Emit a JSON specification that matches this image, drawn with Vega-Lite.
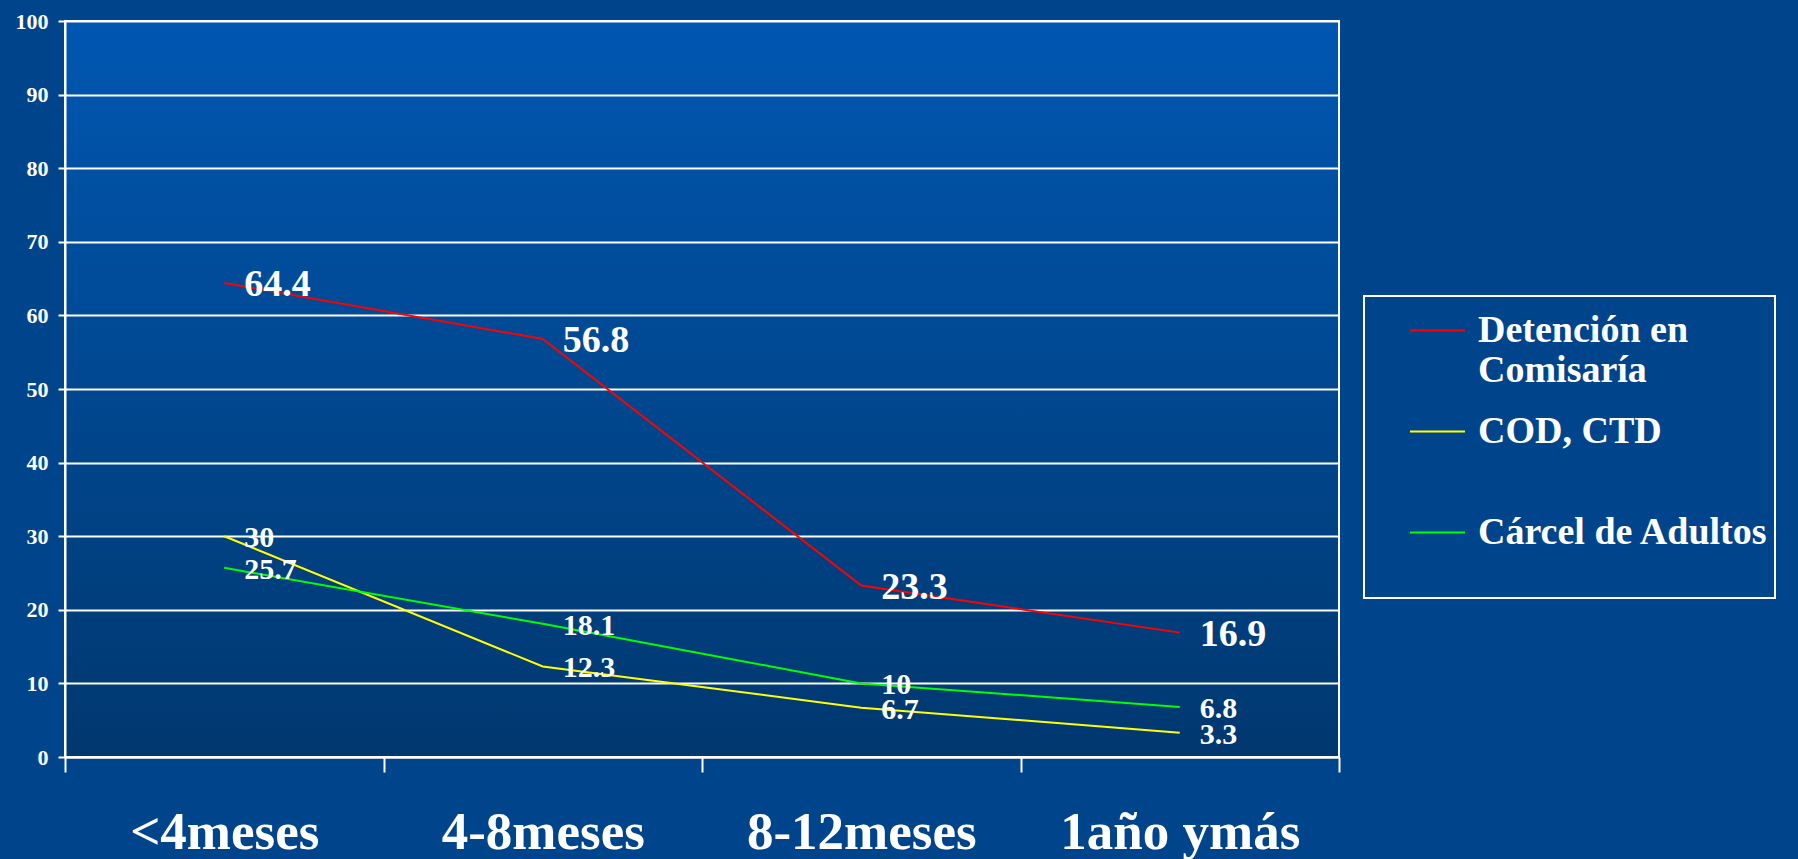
{
  "$schema": "https://vega.github.io/schema/vega-lite/v6.json",
  "width": 1274,
  "height": 736,
  "autosize": {"type": "none"},
  "padding": {"left": 65, "top": 21, "right": 459, "bottom": 102},
  "background": "#00458C",
  "data": {
    "values": [
      {"cat": "<4meses", "series": "Detención en Comisaría", "value": 64.4},
      {"cat": "4-8meses", "series": "Detención en Comisaría", "value": 56.8},
      {"cat": "8-12meses", "series": "Detención en Comisaría", "value": 23.3},
      {"cat": "1año ymás", "series": "Detención en Comisaría", "value": 16.9},
      {"cat": "<4meses", "series": "COD, CTD", "value": 30},
      {"cat": "4-8meses", "series": "COD, CTD", "value": 12.3},
      {"cat": "8-12meses", "series": "COD, CTD", "value": 6.7},
      {"cat": "1año ymás", "series": "COD, CTD", "value": 3.3},
      {"cat": "<4meses", "series": "Cárcel de Adultos", "value": 25.7},
      {"cat": "4-8meses", "series": "Cárcel de Adultos", "value": 18.1},
      {"cat": "8-12meses", "series": "Cárcel de Adultos", "value": 10},
      {"cat": "1año ymás", "series": "Cárcel de Adultos", "value": 6.8}
    ]
  },
  "encoding": {
    "x": {
      "field": "cat",
      "type": "nominal",
      "sort": ["<4meses", "4-8meses", "8-12meses", "1año ymás"],
      "bandPosition": 0.5,
      "scale": {"type": "band", "paddingInner": 0, "paddingOuter": 0},
      "axis": {
        "title": null,
        "labelAngle": 0,
        "labelLimit": 0,
        "domainColor": "white",
        "domainWidth": 2,
        "tickColor": "white",
        "tickWidth": 2,
        "tickSize": 15,
        "tickBand": "extent",
        "labelFont": "Liberation Serif",
        "labelFontWeight": "bold",
        "labelFontSize": 53,
        "labelColor": "white",
        "labelBaseline": "alphabetic",
        "labelPadding": 76,
        "grid": false
      }
    },
    "y": {
      "field": "value",
      "type": "quantitative",
      "scale": {"domain": [0, 100], "nice": false},
      "axis": {
        "title": null,
        "values": [0, 10, 20, 30, 40, 50, 60, 70, 80, 90, 100],
        "domainColor": "white",
        "domainWidth": 2,
        "tickColor": "white",
        "tickWidth": 2,
        "tickSize": 7,
        "gridColor": "white",
        "gridWidth": 2,
        "gridOpacity": 1,
        "labelFont": "Liberation Serif",
        "labelFontWeight": "bold",
        "labelFontSize": 22,
        "labelColor": "white",
        "labelPadding": 10
      }
    }
  },
  "layer": [
    {
      "mark": {"type": "line", "strokeWidth": 2},
      "encoding": {
        "color": {
          "field": "series",
          "type": "nominal",
          "scale": {
            "domain": ["Detención en Comisaría", "COD, CTD", "Cárcel de Adultos"],
            "range": ["#FF0000", "#FFFF00", "#00FF00"]
          },
          "legend": {
            "title": null,
            "orient": "none",
            "legendX": 1299,
            "legendY": 275,
            "strokeColor": "white",
            "padding": 6,
            "symbolType": "stroke",
            "symbolSize": 3025,
            "symbolStrokeWidth": 2,
            "symbolOffset": 39,
            "labelFont": "Liberation Serif",
            "labelFontWeight": "bold",
            "labelFontSize": 38,
            "labelColor": "white",
            "labelLimit": 0,
            "labelOffset": 12,
            "rowPadding": 13,
            "labelExpr": "datum.label == 'Detención en Comisaría' ? ['Detención en', 'Comisaría'] : [datum.label, '']"
          }
        }
      }
    },
    {
      "mark": {
        "type": "text",
        "align": "left",
        "baseline": "middle",
        "dx": 20,
        "dy": 2,
        "font": "Liberation Serif",
        "fontWeight": "bold",
        "color": "white"
      },
      "encoding": {
        "text": {"field": "value", "type": "quantitative"},
        "size": {
          "condition": {"test": "datum.series == 'Detención en Comisaría'", "value": 38},
          "value": 30
        }
      }
    }
  ],
  "config": {
    "legend": {"strokeWidth": 2},
    "view": {
      "stroke": "white",
      "strokeWidth": 2,
      "fill": {
        "gradient": "linear",
        "x1": 0, "y1": 0, "x2": 0, "y2": 1,
        "stops": [
          {"offset": 0, "color": "#0057B1"},
          {"offset": 1, "color": "#00386F"}
        ]
      }
    }
  }
}
